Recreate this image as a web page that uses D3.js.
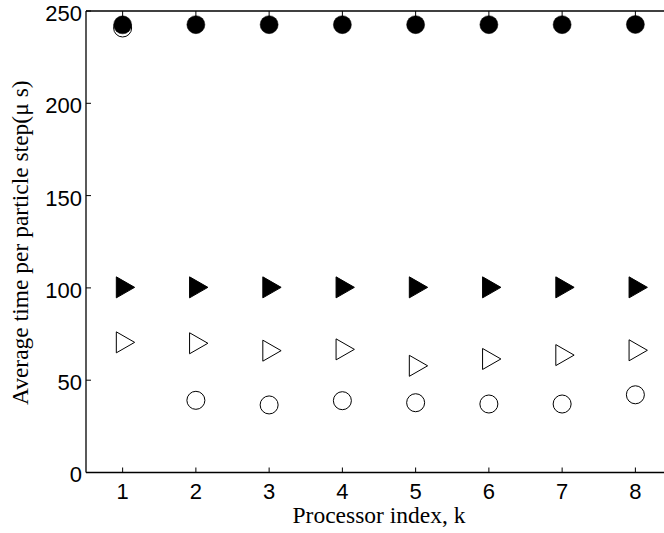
<!DOCTYPE html>
<html>
<head>
<meta charset="utf-8">
<script src="https://cdn.jsdelivr.net/npm/d3@7"></script>
<style>
body{margin:0;background:#fff;}
svg{display:block;}
</style>
</head>
<body>
<svg id="chart" width="664" height="533"></svg>
<script>
// processor index
var procs=[1,2,3,4,5,6,7,8];
// filled circles
var fullCircle=[242.5,242.6,242.6,242.6,242.6,242.6,242.6,242.7];
// open circles
var openCircle=[240.8,39.1,36.6,38.9,37.8,37.1,37.1,42.1];
// filled triangles
var fullTri=[100.3,100.3,100.3,100.3,100.3,100.3,100.3,100.3];
// open triangles
var openTri=[70.5,70.0,66.0,66.7,57.8,61.5,63.6,66.2];
var yTicks=[0,50,100,150,200,250];

var svg=d3.select("#chart");
var x=d3.scaleLinear().domain([0.5,8.5]).range([86,672]);
var y=d3.scaleLinear().domain([0,250]).range([472.5,11]);

var g=svg.append("g");

// box lines
g.append("line").attr("x1",x(0.5)).attr("x2",x(8.5)).attr("y1",y(0)).attr("y2",y(0)).attr("stroke","#000").attr("stroke-width",1.3);
g.append("line").attr("x1",x(0.5)).attr("x2",x(8.5)).attr("y1",y(250)).attr("y2",y(250)).attr("stroke","#000").attr("stroke-width",1.3);
g.append("line").attr("x1",x(0.5)).attr("x2",x(0.5)).attr("y1",y(0)).attr("y2",y(250)).attr("stroke","#000").attr("stroke-width",1.3);

// x ticks (bottom and top, inward)
var xt=g.selectAll("g.xt").data(procs).enter().append("g").attr("class","xt");
xt.append("line").attr("x1",d=>x(d)).attr("x2",d=>x(d)).attr("y1",y(0)).attr("y2",y(0)-5).attr("stroke","#000");
xt.append("line").attr("x1",d=>x(d)).attr("x2",d=>x(d)).attr("y1",y(250)).attr("y2",y(250)+5).attr("stroke","#000");
xt.append("text").attr("x",d=>x(d)).attr("y",y(0)+26)
    .attr("text-anchor","middle").style("font-family","Liberation Sans, Arial, sans-serif").style("font-size","22px")
    .text(d=>d);

// y ticks
var yt=g.selectAll("g.yt").data(yTicks).enter().append("g").attr("class","yt");
yt.append("line").attr("x1",x(0.5)).attr("x2",x(0.5)+5).attr("y1",d=>y(d)).attr("y2",d=>y(d)).attr("stroke","#000");
yt.append("text").attr("x",x(0.5)-4).attr("y",d=>y(d)+2).attr("dy","0.36em")
    .attr("text-anchor","end").style("font-family","Liberation Sans, Arial, sans-serif").style("font-size","22px")
    .text(d=>d);

// axis labels
svg.append("text").attr("x",379).attr("y",523).attr("text-anchor","middle")
    .style("font-family","Liberation Serif, Times New Roman, serif").style("font-size","23.5px")
    .text("Processor index, k");
svg.append("text").attr("transform","translate(28,"+((y(0)+y(250))/2+1)+") rotate(-90)").attr("text-anchor","middle")
    .style("font-family","Liberation Serif, Times New Roman, serif").style("font-size","23.5px")
    .text("Average time per particle step(\u03bc s)");

// triangle pointing right
function tri(d,v){
    var cx=x(d), cy=y(v);
    return "M"+(cx-6.3)+","+(cy-10.5)+"L"+(cx+12)+","+cy+"L"+(cx-6.3)+","+(cy+10.5)+"Z";
}

g.selectAll("path.otri").data(procs).enter().append("path").attr("class","otri")
    .attr("d",(d,i)=>tri(d,openTri[i])).attr("fill","none").attr("stroke","#000").attr("stroke-width",1);
g.selectAll("path.ftri").data(procs).enter().append("path").attr("class","ftri")
    .attr("d",(d,i)=>tri(d,fullTri[i])).attr("fill","#000").attr("stroke","#000").attr("stroke-width",1);
g.selectAll("circle.ocirc").data(procs).enter().append("circle").attr("class","ocirc")
    .attr("cx",d=>x(d)).attr("cy",(d,i)=>y(openCircle[i])).attr("r",9)
    .attr("fill","none").attr("stroke","#000").attr("stroke-width",1);
g.selectAll("circle.fcirc").data(procs).enter().append("circle").attr("class","fcirc")
    .attr("cx",d=>x(d)).attr("cy",(d,i)=>y(fullCircle[i])).attr("r",9)
    .attr("fill","#000").attr("stroke","#000").attr("stroke-width",0.5);
</script>
</body>
</html>
